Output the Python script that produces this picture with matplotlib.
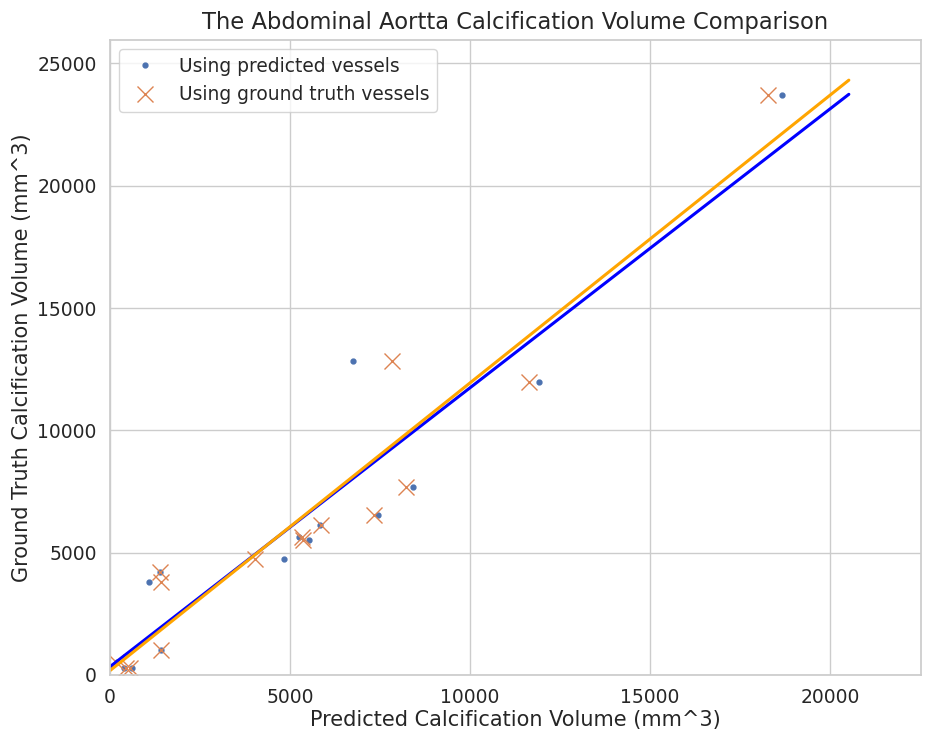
import numpy as np
import matplotlib
matplotlib.use("Agg")
import matplotlib.pyplot as plt
import seaborn as sns

# ground truth volumes (mm^3), shared by both series
gt_vol = [290, 290, 540, 1030, 3820, 4200, 4750, 5630, 5520, 6150, 6540, 7700, 12850, 11990, 23730]
# predicted volume using predicted vessels
pred_vessels = [380, 600, 200, 1410, 1090, 1390, 4820, 5260, 5540, 5830, 7450, 8410, 6760, 11920, 18660]
# predicted volume using ground truth vessels
pred_gt_vessels = [450, 560, 170, 1410, 1420, 1390, 4030, 5330, 5370, 5850, 7340, 8210, 7820, 11650, 18290]

# fitted lines (slope, intercept)
fit_pred = (1.140, 340)
fit_gt = (1.176, 180)

sns.set_theme(style="whitegrid")

fig = plt.figure(figsize=(9.27, 7.34), dpi=100)
ax = fig.add_axes([0.1187, 0.0804, 0.8748, 0.8651])

ax.plot(pred_vessels, gt_vol, '.', color='#4c72b0', markersize=7, label='Using predicted vessels')
ax.plot(pred_gt_vessels, gt_vol, 'x', color='#dd8452', markersize=12, markeredgewidth=1.0,
        label='Using ground truth vessels')

xs = np.array([0, 1.1 * max(pred_vessels)])
ax.plot(xs, fit_pred[0] * xs + fit_pred[1], color='blue', lw=2.2)
ax.plot(xs, fit_gt[0] * xs + fit_gt[1], color='orange', lw=2.2)

ax.set_xlim(0, 22530)
ax.set_ylim(0, 25960)
ax.set_xticks([0, 5000, 10000, 15000, 20000])
ax.set_yticks([0, 5000, 10000, 15000, 20000, 25000])
ax.tick_params(labelsize=13.5)
ax.set_xlabel('Predicted Calcification Volume (mm^3)', fontsize=15, labelpad=2)
ax.set_ylabel('Ground Truth Calcification Volume (mm^3)', fontsize=15)
ax.set_title('The Abdominal Aortta Calcification Volume Comparison', fontsize=16.3, pad=8)
ax.legend(loc='upper left', fontsize=13.4)

fig.savefig('out.png')
